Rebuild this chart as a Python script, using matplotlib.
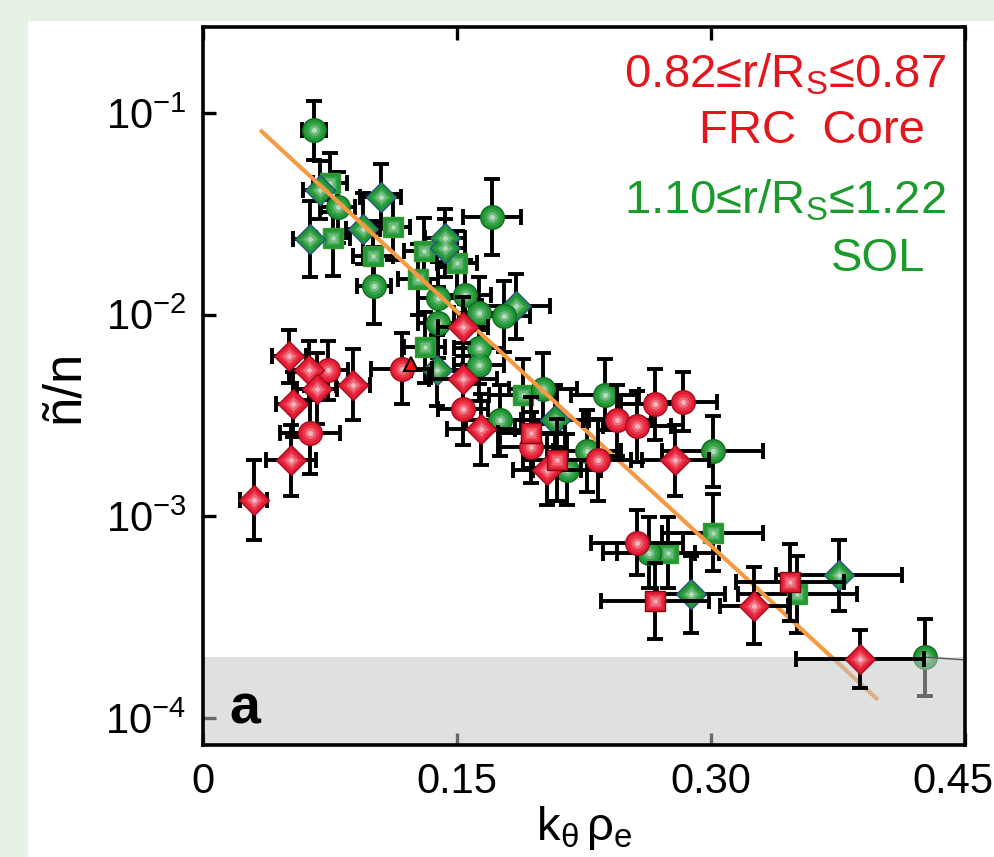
import numpy as np
import matplotlib.pyplot as plt
from matplotlib.colors import to_rgb
from matplotlib.patches import Rectangle
from matplotlib.transforms import ScaledTranslation

plt.rcParams['font.family'] = ['Liberation Sans', 'DejaVu Sans']
plt.rcParams['mathtext.fontset'] = 'custom'
plt.rcParams['mathtext.rm'] = 'Liberation Sans'
plt.rcParams['mathtext.it'] = 'Liberation Sans'
plt.rcParams['mathtext.default'] = 'regular'

# FRC core points: k_theta*rho_e, n~/n, x error, y error factor (log-symmetric)
core_circ_x = [0.0738, 0.0632, 0.1175, 0.1535, 0.194, 0.233, 0.2445, 0.2563, 0.267, 0.2835, 0.2563]
core_circ_y = [0.0053, 0.0026, 0.0054, 0.0034, 0.0022, 0.0019, 0.0030, 0.0028, 0.0036, 0.0037, 0.00074]
core_circ_dx = [0.012, 0.018, 0.018, 0.015, 0.02, 0.02, 0.02, 0.02, 0.02, 0.02, 0.027]
core_circ_f = [1.4, 1.6, 1.5, 1.5, 1.5, 1.6, 1.5, 1.5, 1.5, 1.4, 1.45]

core_diam_x = [0.0508, 0.0626, 0.0673, 0.0886, 0.0532, 0.052, 0.0301, 0.1535, 0.1535, 0.164, 0.203, 0.279, 0.3254, 0.388]
core_diam_y = [0.0062, 0.0053, 0.0043, 0.0045, 0.0036, 0.0019, 0.0012, 0.0087, 0.0048, 0.0027, 0.0017, 0.0019, 0.00036, 0.000196]
core_diam_dx = [0.01, 0.012, 0.012, 0.01, 0.01, 0.015, 0.008, 0.015, 0.02, 0.02, 0.02, 0.02, 0.02, 0.038]
core_diam_f = [1.35, 1.4, 1.5, 1.5, 1.45, 1.5, 1.58, 1.4, 1.5, 1.5, 1.5, 1.5, 1.55, 1.4]

core_sq_x = [0.194, 0.209, 0.267, 0.3467]
core_sq_y = [0.0026, 0.0019, 0.00038, 0.00047]
core_sq_dx = [0.02, 0.02, 0.032, 0.032]
core_sq_f = [1.5, 1.6, 1.55, 1.55]

core_tri_x = [0.123]
core_tri_y = [0.0057]

# SOL points
sol_circ_x = [0.0656, 0.0797, 0.1707, 0.101, 0.139, 0.155, 0.163, 0.178, 0.139, 0.163, 0.163,
              0.1754, 0.201, 0.2374, 0.2268, 0.301, 0.2634, 0.215, 0.4264]
sol_circ_y = [0.082, 0.034, 0.0305, 0.0139, 0.0121, 0.0125, 0.0102, 0.0098, 0.0091, 0.0068, 0.0056,
              0.0030, 0.0043, 0.0040, 0.0021, 0.0021, 0.00066, 0.0017, 0.0002]
sol_circ_dx = [0.007, 0.01, 0.017, 0.01, 0.012, 0.015, 0.015, 0.015, 0.012, 0.015, 0.015,
               0.02, 0.02, 0.02, 0.02, 0.03, 0.027, 0.02, 0.0]
sol_circ_f = [1.4, 1.5, 1.55, 1.55, 1.5, 1.5, 1.5, 1.5, 1.5, 1.5, 1.5,
              1.5, 1.5, 1.5, 1.6, 1.5, 1.5, 1.5, 1.55]

sol_sq_x = [0.075, 0.0768, 0.112, 0.1004, 0.1305, 0.150, 0.127, 0.131, 0.189, 0.301, 0.2746, 0.351]
sol_sq_y = [0.045, 0.024, 0.0272, 0.0195, 0.0207, 0.018, 0.015, 0.0069, 0.0040, 0.00083, 0.00066, 0.00041]
sol_sq_dx = [0.01, 0.01, 0.01, 0.012, 0.012, 0.012, 0.012, 0.012, 0.02, 0.03, 0.03, 0.035]
sol_sq_f = [1.4, 1.55, 1.45, 1.5, 1.45, 1.45, 1.5, 1.5, 1.5, 1.55, 1.5, 1.55]

sol_diam_x = [0.069, 0.105, 0.0632, 0.0945, 0.143, 0.143, 0.185, 0.208, 0.288, 0.3756, 0.138]
sol_diam_y = [0.0415, 0.0384, 0.0237, 0.0266, 0.024, 0.0214, 0.011, 0.0030, 0.00041, 0.00051, 0.0053]
sol_diam_dx = [0.01, 0.012, 0.01, 0.01, 0.012, 0.012, 0.02, 0.02, 0.02, 0.037, 0.015]
sol_diam_f = [1.4, 1.45, 1.55, 1.5, 1.4, 1.4, 1.45, 1.5, 1.55, 1.5, 1.5]

# power-law fit end points
fit_x = [0.0337, 0.3986]
fit_y = [0.0824, 0.000123]

noise_floor = 2e-4

RED = '#e61c34'
RED_EDGE = '#9c0f1e'
GREEN = '#1f9834'
GREEN_EDGE = '#116a20'
BLUE_EDGE = '#2b4f86'


def mix(c, w):
    c = np.array(to_rgb(c))
    return tuple(c + (1 - c) * w)


def bars(ax, x, y, dx, f, z, color='black'):
    x = np.array(x); y = np.array(y); f = np.array(f)
    ax.errorbar(x, y, xerr=dx, yerr=[y - y / f, y * f - y], fmt='none', ecolor=color,
                elinewidth=2.8, capsize=6, capthick=2.8, zorder=z)


def shaded(ax, x, y, marker, ms, face, edge, z):
    # fake radial shading with a few lighter markers stacked on top
    ax.plot(x, y, ls='none', marker=marker, ms=ms, mfc=face, mec=edge, mew=1.0, zorder=z)
    for k, (frac, w) in enumerate([(0.7, 0.15), (0.45, 0.4), (0.22, 0.75)]):
        ax.plot(x, y, ls='none', marker=marker, ms=ms * frac, mfc=mix(face, w), mec='none',
                alpha=0.8, zorder=z + 0.01 * (k + 1))


fig = plt.figure(figsize=(9.94, 8.57), dpi=100)
fig.patch.set_facecolor('#e7f2e6')
fig.patches.append(Rectangle((0.0282, 0), 1, 0.9755, transform=fig.transFigure,
                             facecolor='white', edgecolor='none', zorder=-10))

ax = fig.add_axes([0.2042, 0.1307, 0.7666, 0.8378])
ax.set_facecolor('white')
ax.set_yscale('log')
ax.set_xlim(0, 0.45)
ax.set_ylim(7.34e-5, 0.267)

# SOL (green) under the fit line
bars(ax, sol_circ_x, sol_circ_y, sol_circ_dx, sol_circ_f, 2)
bars(ax, sol_sq_x, sol_sq_y, sol_sq_dx, sol_sq_f, 2)
bars(ax, sol_diam_x, sol_diam_y, sol_diam_dx, sol_diam_f, 2)
shaded(ax, sol_sq_x, sol_sq_y, 's', 15, GREEN, '#3a9a2f', 3)
shaded(ax, sol_diam_x, sol_diam_y, 'D', 15, GREEN, BLUE_EDGE, 3.1)
shaded(ax, sol_circ_x, sol_circ_y, 'o', 17, GREEN, GREEN_EDGE, 3.2)

ax.plot(fit_x, fit_y, color='#f59a42', lw=3, zorder=4, solid_capstyle='butt')

# semi-transparent noise-floor band
ax.axhspan(7.34e-5 * 0.5, noise_floor, color='#c2c5c8', alpha=0.53, lw=0, zorder=4.5)
ax.plot([sol_circ_x[-1], 0.45], [noise_floor, noise_floor * 0.97], color='#555555', lw=1.0, zorder=4.6)

# FRC core (red) on top
bars(ax, core_circ_x, core_circ_y, core_circ_dx, core_circ_f, 5)
bars(ax, core_diam_x, core_diam_y, core_diam_dx, core_diam_f, 5)
bars(ax, core_sq_x, core_sq_y, core_sq_dx, core_sq_f, 5)
shaded(ax, core_circ_x, core_circ_y, 'o', 17, RED, RED_EDGE, 6)
shaded(ax, core_diam_x, core_diam_y, 'D', 15, RED, RED_EDGE, 6.1)
shaded(ax, core_sq_x, core_sq_y, 's', 15, RED, '#7a0a12', 6.2)
ax.plot(core_tri_x, core_tri_y, ls='none', marker='^', ms=10, mfc='#ff1010', mec='black', mew=1.5, zorder=6.5)

# axes styling
for s in ax.spines.values():
    s.set_linewidth(2.6)
    s.set_zorder(7)
ax.set_xticks([0, 0.15, 0.30, 0.45])
ax.set_xticklabels(['0', '0.15', '0.30', '0.45'], fontsize=30)
ax.set_yticks([1e-1, 1e-2, 1e-3, 1e-4])
ax.set_yticklabels(['$10^{-1}$', '$10^{-2}$', '$10^{-3}$', '$10^{-4}$'], fontsize=30)
ax.minorticks_off()
ax.tick_params(axis='both', which='major', direction='in', length=9, width=2.4,
               top=True, right=False)
ax.tick_params(axis='x', pad=12)
ax.tick_params(axis='y', pad=12)

# keep the last x label inside the figure
last = ax.xaxis.get_major_ticks()[-1].label1
last.set_transform(last.get_transform() + ScaledTranslation(-0.12, 0, fig.dpi_scale_trans))

ax.set_xlabel(r'k$_\theta\,$ρ$_e$', fontsize=34, labelpad=2)
ax.set_ylabel('ñ/n', fontsize=38, labelpad=12)

ax.text(0.975, 0.933, '0.82≤r/R$_S$≤0.87', transform=ax.transAxes, ha='right', va='center',
        fontsize=34, color='#e3161e')
ax.text(0.948, 0.855, 'FRC  Core', transform=ax.transAxes, ha='right', va='center',
        fontsize=34, color='#e3161e')
ax.text(0.975, 0.758, '1.10≤r/R$_S$≤1.22', transform=ax.transAxes, ha='right', va='center',
        fontsize=34, color='#1c9a2c')
ax.text(0.948, 0.677, 'SOL', transform=ax.transAxes, ha='right', va='center',
        fontsize=34, color='#1c9a2c')
ax.text(0.035, 0.03, 'a', transform=ax.transAxes, ha='left', va='baseline',
        fontsize=40, fontweight='bold', zorder=8)

fig.savefig('out.png', dpi=100, facecolor=fig.get_facecolor())
